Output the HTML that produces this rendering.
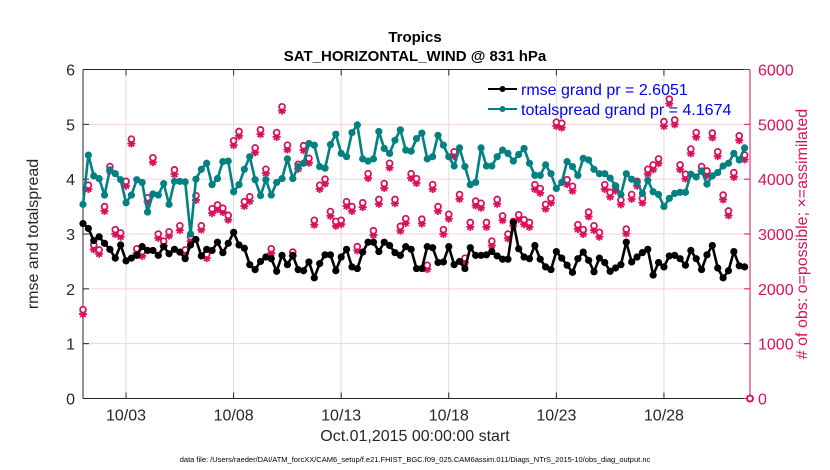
<!DOCTYPE html>
<html><head><meta charset="utf-8"><style>
html,body{margin:0;padding:0;background:#fff;}
svg{display:block;font-family:"Liberation Sans",Arial,sans-serif;}
</style></head><body>
<svg id="chart" width="830" height="470" viewBox="0 0 830 470"></svg>
<script>
const tickDays=[2,7,12,17,22,27];
const tickLabels=["10/03","10/08","10/13","10/18","10/23","10/28"];
const leftTicks=[0,1,2,3,4,5,6];
const rightTicks=[0,1000,2000,3000,4000,5000,6000];
const totalspread=[3.54,4.44,4.06,4.01,3.71,4.17,4.1,3.99,3.57,3.71,3.99,3.94,3.4,3.73,3.71,3.92,3.54,3.96,3.96,3.95,3.0,4.0,4.18,4.29,3.9,4.01,4.32,4.33,3.77,3.9,4.18,4.41,
3.99,3.7,3.99,3.71,3.94,4.01,4.37,4.01,4.23,4.29,4.65,4.62,4.23,4.2,4.63,4.82,4.47,4.41,4.85,4.99,4.37,4.33,4.37,4.87,4.56,4.47,4.71,4.9,4.53,4.51,4.74,
4.84,4.37,4.41,4.8,4.62,4.41,4.24,4.57,4.23,3.9,3.94,4.57,4.24,4.24,4.41,4.53,4.47,4.33,4.45,4.56,4.29,4.07,4.07,4.26,4.1,3.83,3.94,4.32,4.23,4.07,4.38,
4.35,4.18,4.1,4.1,4.02,3.88,3.72,4.1,4.0,3.94,3.74,3.98,3.77,3.72,3.5,3.65,3.74,3.76,3.76,4.09,4.04,4.15,3.91,4.06,4.12,4.24,4.29,4.47,4.35,4.57];
const rmse=[3.19,3.1,2.88,2.95,2.83,2.72,2.56,2.8,2.51,2.56,2.61,2.77,2.7,2.7,2.61,2.77,2.64,2.72,2.67,2.55,2.8,2.9,2.6,2.72,2.7,2.85,2.66,2.83,3.03,2.8,2.74,2.44,
2.35,2.5,2.58,2.55,2.32,2.61,2.44,2.61,2.35,2.33,2.49,2.2,2.46,2.62,2.62,2.33,2.58,2.72,2.4,2.37,2.67,2.85,2.85,2.68,2.85,2.79,2.66,2.61,2.77,2.72,2.37,
2.37,2.77,2.75,2.48,2.49,2.77,2.44,2.5,2.37,2.75,2.61,2.61,2.62,2.68,2.6,2.54,2.54,3.21,2.73,2.58,2.55,2.79,2.54,2.4,2.35,2.68,2.56,2.43,2.3,2.55,2.67,
2.52,2.31,2.56,2.48,2.32,2.38,2.44,2.85,2.49,2.58,2.66,2.72,2.25,2.48,2.4,2.6,2.61,2.55,2.43,2.7,2.55,2.35,2.62,2.79,2.38,2.2,2.33,2.68,2.42,2.4];
const obsPossible=[1620,3890,2800,2710,3500,4230,3080,3020,3960,4730,2730,2680,3660,4390,3000,2870,3040,4170,3150,2710,2950,3700,3150,2630,3460,3530,3470,3340,4700,4870,3590,3680,
4570,4900,4180,2730,4850,5320,4620,2670,4270,4610,4380,3250,3890,4000,3410,3230,3250,3590,3500,2770,3570,4100,3060,3630,3920,4290,3630,3140,3280,4100,4010,
3270,2430,3900,3500,3080,3360,4500,3720,2560,3210,3600,3560,3210,2870,3630,3330,3000,3230,3350,3260,3210,3900,3830,3540,3650,5040,5020,3990,3870,3170,3080,
3400,3150,3030,3900,3760,3870,3620,3090,3720,3960,3650,4180,4260,4370,5050,5460,5080,4260,4090,4550,4850,4230,4150,4840,4500,3710,3420,4120,4790,4440,0];
const obsAssim=[1540,3820,2720,2640,3420,4150,3000,2950,3880,4650,2650,2600,3590,4310,2930,2790,2970,4090,3070,2640,2870,3620,3080,2560,3380,3450,3400,3260,4620,4790,3510,3600,
4490,4820,4110,2650,4770,5250,4540,2600,4190,4530,4300,3170,3820,3920,3330,3150,3180,3510,3420,2700,3490,4020,2980,3550,3840,4210,3560,3060,3200,4020,3930,
3190,2360,3820,3420,3000,3280,4420,3640,2480,3130,3520,3480,3130,2790,3550,3250,2920,3150,3270,3180,3130,3820,3750,3460,3570,4970,4940,3910,3790,3090,3000,
3320,3070,2950,3820,3680,3790,3540,3010,3640,3880,3570,4100,4180,4290,4970,5380,5000,4180,4010,4470,4770,4150,4070,4760,4420,3630,3340,4040,4710,4360,0];

const L=83,R=750,T=69.5,B=398.5;
const DAYS=31, STEP=0.25;
const xScale=d=>L+d/DAYS*(R-L);
const yL=v=>B-v/6*(B-T);
const yR=v=>B-v/6000*(B-T);
const svg=document.getElementById('chart');
const NS='http://www.w3.org/2000/svg';
function mk(tag,attrs,parent){const e=document.createElementNS(NS,tag);for(const k in attrs)e.setAttribute(k,attrs[k]);(parent||svg).appendChild(e);return e;}
const CR='#d8115b', TEAL='#008080';

const grid=mk('g',{});


tickDays.forEach(d=>{mk('line',{x1:xScale(d),x2:xScale(d),y1:T,y2:B,stroke:'#dcdcdc','stroke-width':1},grid);});
leftTicks.slice(1,-1).forEach(v=>{mk('line',{x1:L,x2:R,y1:yL(v),y2:yL(v),stroke:'#f6d0de','stroke-width':1},grid);});

const ax=mk('g',{});


mk('line',{x1:L,x2:R,y1:T,y2:T,stroke:'#262626','stroke-width':1},ax);
mk('line',{x1:L,x2:R,y1:B,y2:B,stroke:'#262626','stroke-width':1},ax);
mk('line',{x1:L,x2:L,y1:T,y2:B,stroke:'#262626','stroke-width':1},ax);
mk('line',{x1:R,x2:R,y1:T,y2:B,stroke:CR,'stroke-width':1},ax);
tickDays.forEach((d,i)=>{
  mk('line',{x1:xScale(d),x2:xScale(d),y1:B,y2:B-6,stroke:'#262626'},ax);
  mk('line',{x1:xScale(d),x2:xScale(d),y1:T,y2:T+6,stroke:'#262626'},ax);
  const t=mk('text',{x:xScale(d),y:B+22,'text-anchor':'middle','font-size':16,fill:'#262626'},ax);
  t.textContent=tickLabels[i];
  
  
});
leftTicks.forEach(v=>{
  mk('line',{x1:L,x2:L+6,y1:yL(v),y2:yL(v),stroke:'#262626'},ax);
  const t=mk('text',{x:L-8,y:yL(v)+6,'text-anchor':'end','font-size':16,fill:'#262626'},ax);
  t.textContent=v;
  
  
});
rightTicks.forEach(v=>{
  mk('line',{x1:R-6,x2:R,y1:yR(v),y2:yR(v),stroke:CR},ax);
  const t=mk('text',{x:R+8,y:yR(v)+6,'text-anchor':'start','font-size':16,fill:CR},ax);
  t.textContent=v;
  
  
});

const obsG=mk('g',{});


obsAssim.forEach((v,i)=>{
  const x=xScale(i*STEP),y=yR(v),s=4;
  const g=mk('g',{stroke:CR,'stroke-width':1.8},obsG);
  
  
  mk('line',{x1:x-s,x2:x+s,y1:y,y2:y},g);
  mk('line',{x1:x,x2:x,y1:y-s,y2:y+s},g);
  mk('line',{x1:x-s*0.72,x2:x+s*0.72,y1:y-s*0.72,y2:y+s*0.72},g);
  mk('line',{x1:x-s*0.72,x2:x+s*0.72,y1:y+s*0.72,y2:y-s*0.72},g);
});
obsPossible.forEach((v,i)=>{
  const c=mk('circle',{cx:xScale(i*STEP),cy:yR(v),r:2.9,fill:'#fff',stroke:CR,'stroke-width':1.8},obsG);
  
  
});

function series(arr,color,name){
  const g=mk('g',{});
  
  
  const pts=arr.map((v,i)=>xScale(i*STEP).toFixed(2)+','+yL(v).toFixed(2)).join(' ');
  mk('polyline',{points:pts,fill:'none',stroke:color,'stroke-width':2.6,'stroke-linejoin':'round'},g);
  arr.forEach((v,i)=>{
    const c=mk('circle',{cx:xScale(i*STEP),cy:yL(v),r:3.6,fill:color},g);
    
    
  });
}
series(totalspread,TEAL,'totalspread-line');
series(rmse,'#000','rmse-line');
</script>
<svg width="830" height="470" style="position:absolute;left:0;top:0">
  <text x="415" y="42" text-anchor="middle" font-size="15" font-weight="bold" font-family="Liberation Sans, sans-serif" fill="#000">Tropics</text>
  <text x="415" y="61" text-anchor="middle" font-size="15" font-weight="bold" font-family="Liberation Sans, sans-serif" fill="#000">SAT_HORIZONTAL_WIND @ 831 hPa</text>
  <text x="415" y="441" text-anchor="middle" font-size="16" font-family="Liberation Sans, sans-serif" fill="#262626">Oct.01,2015 00:00:00 start</text>
  <text transform="translate(38,234) rotate(-90)" text-anchor="middle" font-size="16" font-family="Liberation Sans, sans-serif" fill="#262626">rmse and totalspread</text>
  <text transform="translate(807,234) rotate(-90)" text-anchor="middle" font-size="16" font-family="Liberation Sans, sans-serif" fill="#d8115b"># of obs: o=possible; ×=assimilated</text>
  <text x="415" y="462" text-anchor="middle" font-size="7.5" font-family="Liberation Sans, sans-serif" fill="#000">data file: /Users/raeder/DAI/ATM_forcXX/CAM6_setup/f.e21.FHIST_BGC.f09_025.CAM6assim.011/Diags_NTrS_2015-10/obs_diag_output.nc</text>
  <g>
    <line x1="488" y1="89" x2="517" y2="89" stroke="#000" stroke-width="2"/>
    <circle cx="502.5" cy="89" r="3" fill="#000"/>
    <text x="521" y="95" font-size="16" font-family="Liberation Sans, sans-serif" fill="#0000ff">rmse grand pr = 2.6051</text>
    <line x1="488" y1="109" x2="517" y2="109" stroke="#008080" stroke-width="2"/>
    <circle cx="502.5" cy="109" r="3" fill="#008080"/>
    <text x="521" y="115" font-size="16" font-family="Liberation Sans, sans-serif" fill="#0000ff">totalspread grand pr = 4.1674</text>
  </g>
</svg>
</body></html>
